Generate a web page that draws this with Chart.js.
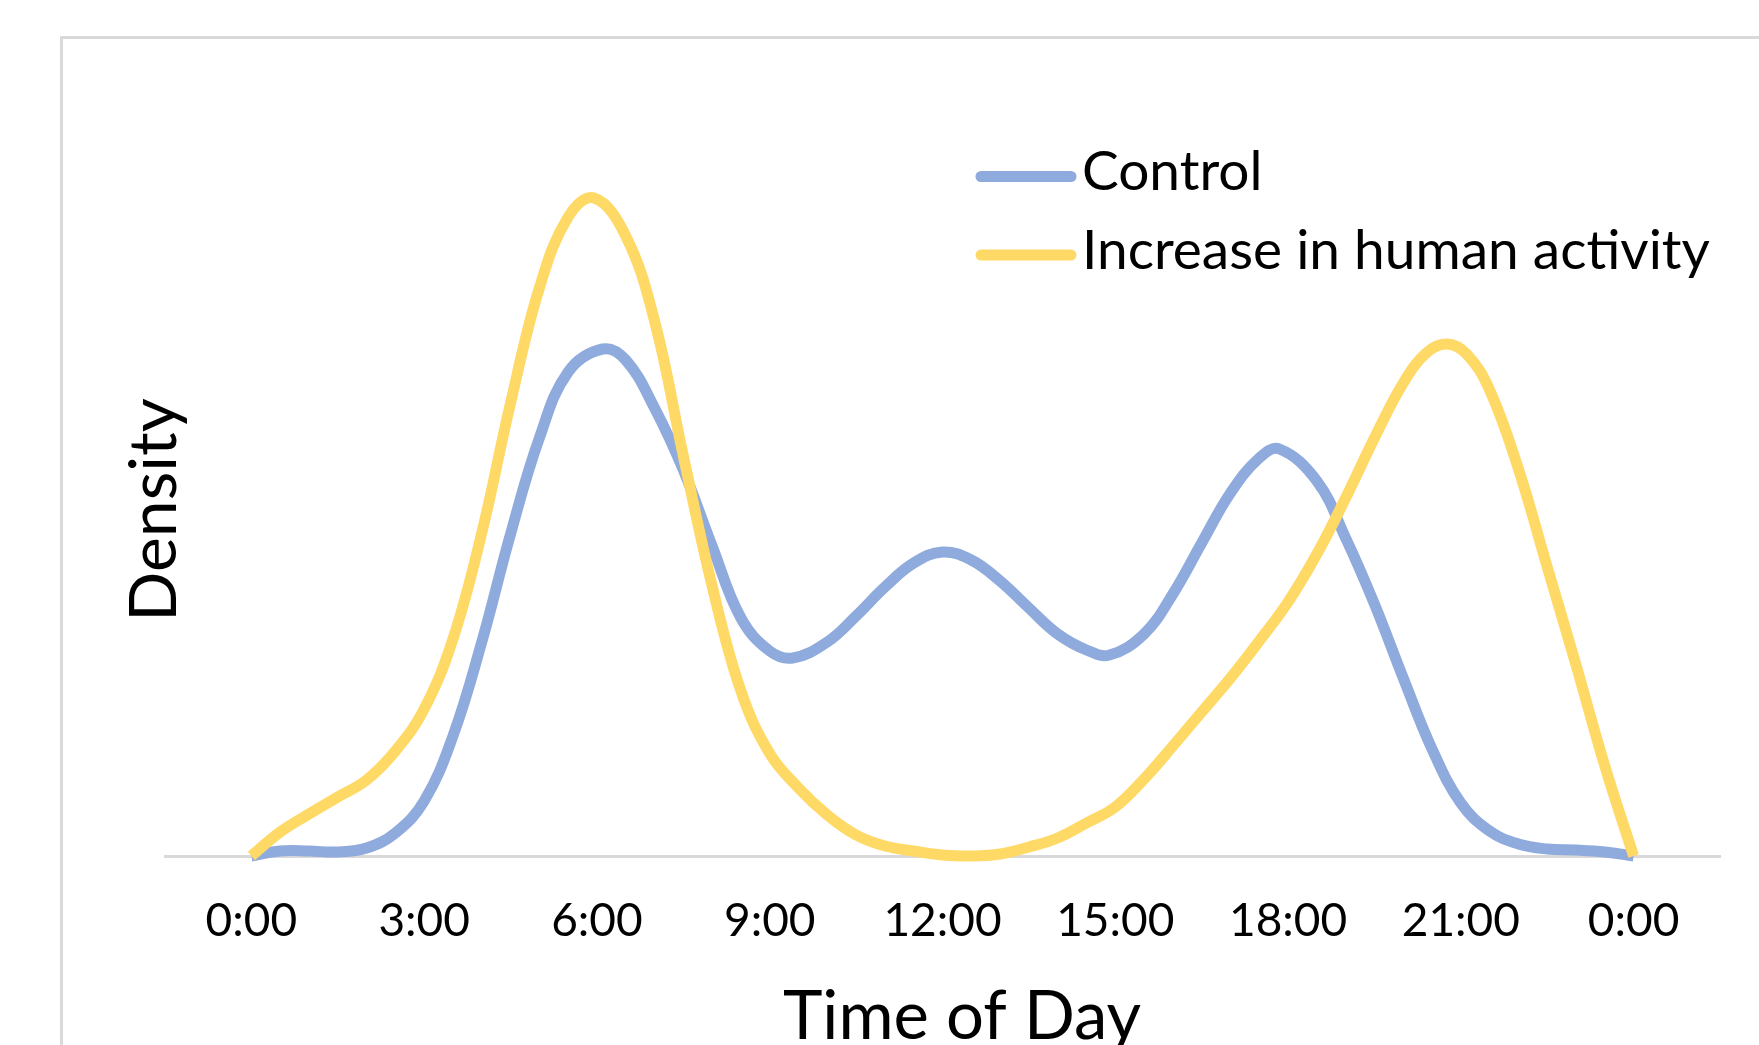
<!DOCTYPE html>
<html>
<head>
<meta charset="utf-8">
<script src="https://cdn.jsdelivr.net/npm/chart.js@4.4.0/dist/chart.umd.min.js"></script>
<style>
  html, body { margin: 0; padding: 0; background: #fff; overflow: hidden; }
  canvas { display: block; }
</style>
</head>
<body>
<canvas id="densityChart" width="1759" height="1100"></canvas>
<script>
// values (hour of day -> density)
var controlHours = [0, 0.5, 1, 1.5, 2, 2.5, 3, 3.5, 4, 4.5, 5, 5.5, 6.1, 6.5, 7, 7.5, 8, 8.5, 9, 9.4,
  10, 10.5, 11, 11.5, 12, 12.5, 13, 13.5, 14, 14.5, 14.9, 15.5, 16, 16.5, 17, 17.5, 17.85, 18.5, 19, 19.5,
  20, 20.5, 21, 21.5, 22, 22.5, 23, 23.5, 24];
var controlDensity = [0, 0.001, 0.001, 0.0008, 0.0016, 0.0046, 0.011, 0.024, 0.0428, 0.0644,
  0.0836, 0.0968, 0.1014, 0.0992, 0.0896, 0.0772, 0.062, 0.0476, 0.041, 0.0396,
  0.0428, 0.048, 0.0538, 0.0586, 0.0608, 0.0592, 0.055, 0.0496, 0.0444, 0.0412,
  0.0402, 0.0444, 0.0524, 0.0626, 0.0726, 0.0796, 0.0814, 0.075, 0.0636, 0.0504,
  0.0356, 0.0214, 0.0106, 0.005, 0.0024, 0.0014, 0.0012, 0.0008, 0];

var humanHours = [0, 0.5, 1, 1.5, 2, 2.5, 3, 3.5, 4, 4.5, 5, 5.5, 5.95, 6.5, 7, 7.5, 8, 8.5, 9, 9.5,
  10, 10.5, 11, 11.5, 12, 12.5, 13, 13.5, 14, 14.5, 15, 15.5, 16, 16.5, 17, 17.5, 18, 18.5, 19, 19.5,
  20, 20.4, 20.75, 21.1, 21.5, 22, 22.5, 23, 23.5, 24];
var humanDensity = [0, 0.0048, 0.0084, 0.0118, 0.0152, 0.021, 0.0294, 0.0434, 0.0646, 0.0906,
  0.1136, 0.1278, 0.1316, 0.124, 0.107, 0.08, 0.054, 0.033, 0.0205, 0.0136,
  0.0082, 0.0042, 0.002, 0.001, 0.0002, 0, 0.0004, 0.0018, 0.0036, 0.0066,
  0.0098, 0.0154, 0.022, 0.0288, 0.0356, 0.043, 0.0508, 0.0604, 0.0716, 0.0836,
  0.0946, 0.1006, 0.1024, 0.1004, 0.0932, 0.0774, 0.0578, 0.0382, 0.018, 0];

var tickHours = [0, 3, 6, 9, 12, 15, 18, 21, 24];
var tickLabels = ["0:00", "3:00", "6:00", "9:00", "12:00", "15:00", "18:00", "21:00", "0:00"];
var seriesNames = ["Control", "Increase in human activity"];
var xTitle = "Time of Day";
var yTitle = "Density";

var blue = "#8FAADC";
var yellow = "#FFD966";
var font = "Lato";

function toPoints(hours, vals) {
  var pts = [];
  for (var i = 0; i < hours.length; i++) {
    pts.push({ x: hours[i], y: vals[i] });
  }
  return pts;
}

// grey frame, legend in the top right and the x title (sits a bit right of centre in the original)
var frameAndLegend = {
  id: "frameAndLegend",
  beforeDraw: function(chart) {
    var c = chart.ctx;
    c.save();
    c.strokeStyle = "#d9d9d9";
    c.lineWidth = 3;
    c.strokeRect(61.5, 37.5, 2000, 2000);
    c.restore();
  },
  afterDraw: function(chart) {
    var c = chart.ctx;
    var rows = [
      { y: 176.5, color: blue, text: seriesNames[0] },
      { y: 255, color: yellow, text: seriesNames[1] }
    ];
    c.save();
    c.lineCap = "round";
    c.lineWidth = 11;
    c.font = "55px " + font;
    c.fillStyle = "#000";
    c.textBaseline = "middle";
    rows.forEach(function(r) {
      c.strokeStyle = r.color;
      c.beginPath();
      c.moveTo(981, r.y);
      c.lineTo(1071, r.y);
      c.stroke();
      c.fillText(r.text, 1082, r.y - 4);
    });
    c.font = "67px " + font;
    c.textAlign = "center";
    c.fillText(xTitle, 962, 1017);
    c.restore();
  }
};

var ctx = document.getElementById("densityChart").getContext("2d");
var chart = new Chart(ctx, {
  type: "line",
  data: {
    datasets: [
      {
        label: seriesNames[0],
        data: toPoints(controlHours, controlDensity),
        borderColor: blue,
        backgroundColor: blue,
        borderWidth: 11,
        tension: 0.4,
        fill: false,
        clip: false,
        order: 1
      },
      {
        label: seriesNames[1],
        data: toPoints(humanHours, humanDensity),
        borderColor: yellow,
        backgroundColor: yellow,
        borderWidth: 11,
        tension: 0.4,
        fill: false,
        clip: false,
        order: 0
      }
    ]
  },
  options: {
    responsive: false,
    animation: false,
    layout: { padding: { top: 164, right: 39, bottom: 0, left: 0 } },
    elements: { point: { radius: 0, hoverRadius: 0 } },
    plugins: {
      legend: { display: false },
      tooltip: { enabled: false }
    },
    scales: {
      x: {
        type: "linear",
        min: -1.5,
        max: 25.5,
        grid: { display: false, drawTicks: false },
        border: { display: true, color: "#d9d9d9", width: 3 },
        afterBuildTicks: function(axis) {
          axis.ticks = tickHours.map(function(v) { return { value: v }; });
        },
        ticks: {
          autoSkip: false,
          maxRotation: 0,
          padding: 38,
          color: "#000",
          font: { family: font, size: 46 },
          callback: function(value, index) { return tickLabels[index]; }
        },
        afterFit: function(scale) { scale.height = 244; }
      },
      y: {
        min: 0,
        max: 0.1384,
        grid: { display: false, drawTicks: false },
        border: { display: false },
        ticks: { display: false },
        title: {
          display: true,
          text: yTitle,
          color: "#000",
          font: { family: font, size: 66 },
          padding: { top: 115, bottom: 0 }
        },
        afterFit: function(scale) { scale.width = 165; }
      }
    }
  },
  plugins: [frameAndLegend]
});
</script>
</body>
</html>
